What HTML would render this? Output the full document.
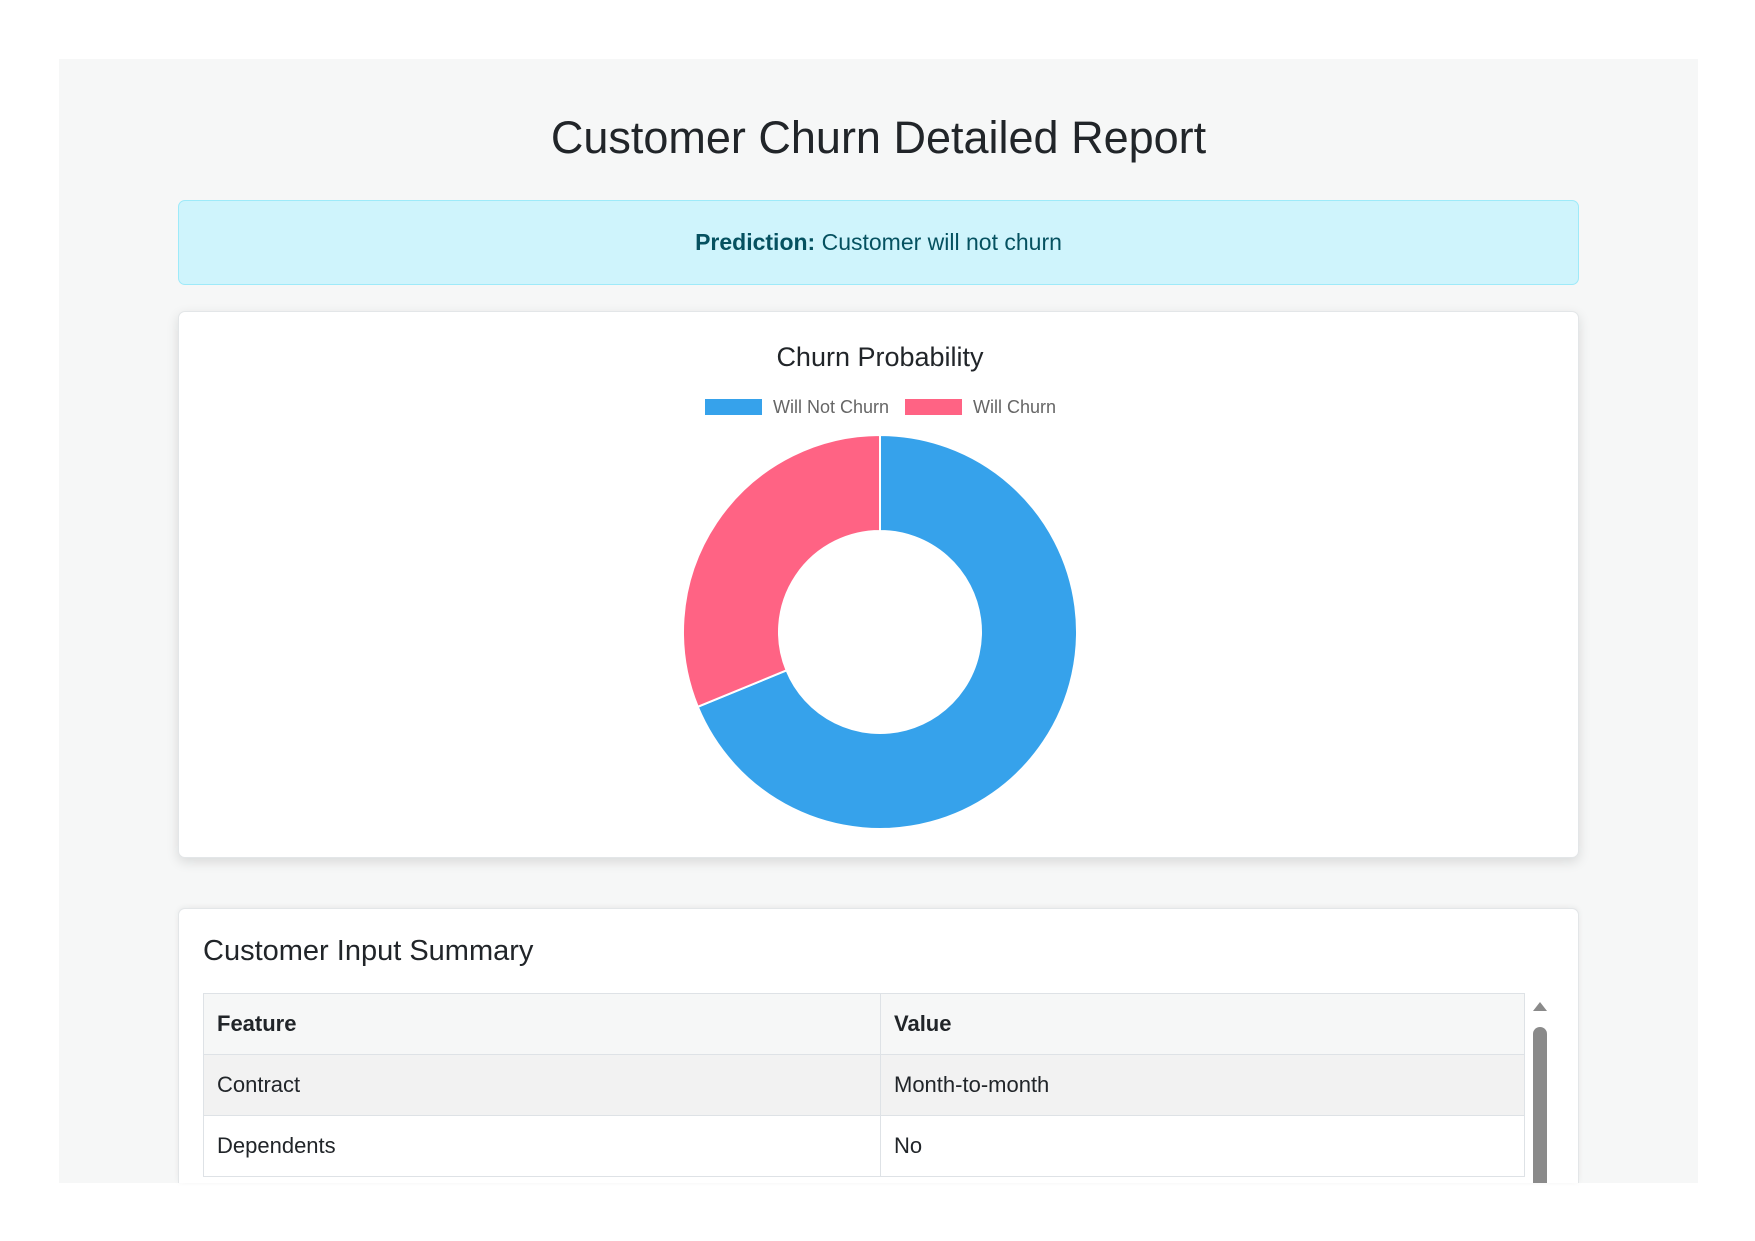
<!DOCTYPE html>
<html><head><meta charset="utf-8"><style>
html,body{margin:0;width:1755px;height:1241px;overflow:hidden}
body{background:#fff;font-family:"Liberation Sans",sans-serif;position:relative}
.wrap{position:absolute;left:59px;top:59px;width:1639px;height:1124px;background:#f6f7f7;overflow:hidden}
.title{position:absolute;left:0;width:100%;text-align:center;font-size:45px;color:#212529;line-height:45px}
.alert{position:absolute;left:178px;top:200px;width:1401px;height:85px;background:#cff4fc;border:1px solid #9eeaf9;border-radius:7px;color:#055160;font-size:23px;text-align:center;line-height:83px;box-sizing:border-box}
.card{position:absolute;left:178px;width:1401px;background:#fff;border:1px solid #e3e6e8;border-radius:7px;box-shadow:0 4px 12px rgba(0,0,0,.12);box-sizing:border-box}
table{border-collapse:collapse;position:absolute;left:24px;top:84px;width:1322px;font-size:22px;color:#212529}
td,th{border:1px solid #dee2e6;height:61px;padding:0 13px;text-align:left;box-sizing:border-box}
th{background:#f6f7f7}
</style></head><body>
<div class="wrap">
<div class="title" style="top:56px">Customer Churn Detailed Report</div>
</div>
<div class="alert"><b>Prediction:</b> Customer will not churn</div>
<div class="card" style="top:311px;height:547px">
<svg id="chart" width="1399" height="545"></svg>
</div>
<div class="card" style="top:908px;height:275px;border-bottom:none;border-radius:7px 7px 0 0;box-shadow:0 -1px 6px rgba(0,0,0,.06);overflow:hidden">
<div style="position:absolute;left:24px;top:26px;font-size:29px;color:#212529">Customer Input Summary</div>
<table>
<tr><th style="width:677px">Feature</th><th>Value</th></tr>
<tr style="background:#f2f2f2"><td>Contract</td><td>Month-to-month</td></tr>
<tr><td>Dependents</td><td>No</td></tr>
</table>
<div style="position:absolute;left:1352px;top:84px;width:18px;height:260px;background:#fff">
<div style="position:absolute;left:2px;top:9px;width:0;height:0;border-left:7px solid transparent;border-right:7px solid transparent;border-bottom:9px solid #8a8a8a"></div>
<div style="position:absolute;left:2px;top:34px;width:14px;height:240px;background:#8a8a8a;border-radius:7px"></div>
</div>
</div>
<script>
const labels=["Will Not Churn","Will Churn"];
const values=[68.8,31.2];
const colors=["#36a2eb","#ff6384"];
const svg=document.getElementById('chart');
const NS="http://www.w3.org/2000/svg";
const cx=701,cy=320,R=197,r=101;
function mk(t,a){const e=document.createElementNS(NS,t);for(const k in a)e.setAttribute(k,a[k]);svg.appendChild(e);return e;}
const t=mk('text',{x:cx,y:54,'text-anchor':'middle','font-size':27,fill:'#212529'});t.textContent='Churn Probability';


const lx=[526,726];
labels.forEach((l,i)=>{
 const b=mk('rect',{x:lx[i],y:87,width:57,height:16,fill:colors[i]});
 
 
 const tx=mk('text',{x:lx[i]+68,y:101,'font-size':18,fill:'#666'});tx.textContent=l;
 
 
});
const total=values.reduce((a,b)=>a+b,0);
let a0=0;
function pt(rad,a){return [cx+rad*Math.sin(a),cy-rad*Math.cos(a)];}
values.forEach((v,i)=>{
 const a1=a0+v/total*2*Math.PI;
 const large=(a1-a0)>Math.PI?1:0;
 const p1=pt(R,a0),p2=pt(R,a1),p3=pt(r,a1),p4=pt(r,a0);
 const d=`M${p1} A${R},${R} 0 ${large} 1 ${p2} L${p3} A${r},${r} 0 ${large} 0 ${p4} Z`;
 const p=mk('path',{d:d,fill:colors[i],stroke:'#fff','stroke-width':2});
 
 
 a0=a1;
});
</script>
</body></html>
